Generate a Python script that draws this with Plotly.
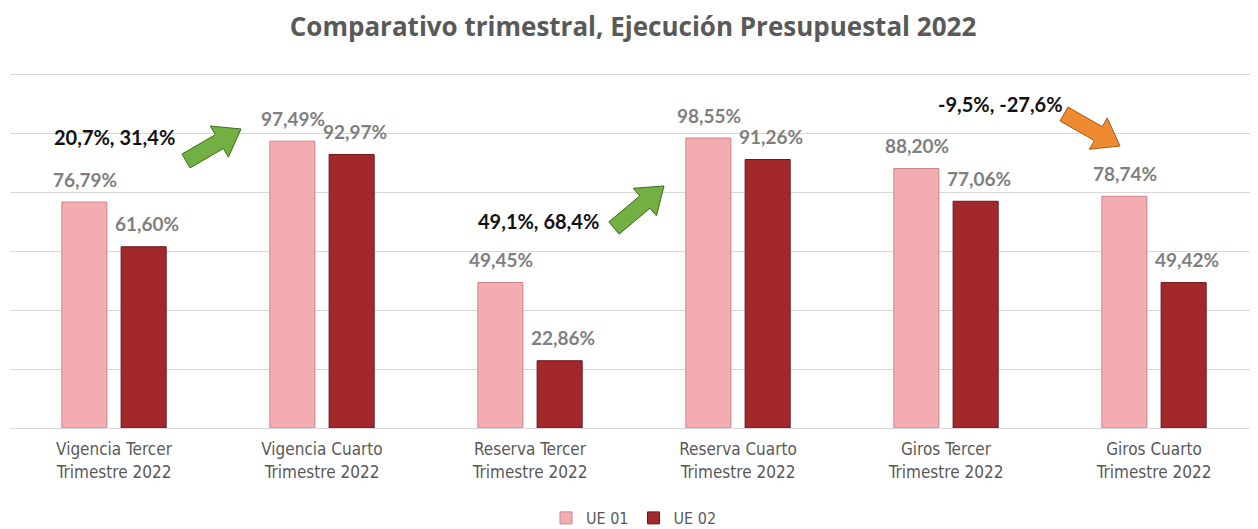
import plotly.graph_objects as go
import math

categories = ["Vigencia Tercer<br>Trimestre 2022", "Vigencia Cuarto<br>Trimestre 2022",
              "Reserva Tercer<br>Trimestre 2022", "Reserva Cuarto<br>Trimestre 2022",
              "Giros Tercer<br>Trimestre 2022", "Giros Cuarto<br>Trimestre 2022"]
ue01 = [76.79, 97.49, 49.45, 98.55, 88.20, 78.74]
ue02 = [61.60, 92.97, 22.86, 91.26, 77.06, 49.42]
series_names = ["UE 01", "UE 02"]
change_texts = ["20,7%, 31,4%", "49,1%, 68,4%", "-9,5%, -27,6%"]

OFF = 8  # page body margin offset
W, H = 1258 - OFF, 529 - OFF
ML, MR, MT, MB = 10 - OFF, 0, 72 - OFF, 101
PW = W - ML - MR
PH = H - MT - MB

def fmt(v):
    return f"{v:.2f}".replace(".", ",") + "%"

fig = go.Figure()
fig.add_trace(go.Bar(x=categories, y=ue01, name=series_names[0],
                     marker=dict(color="#F3ADB1", line=dict(color="#C9878C", width=1))))
fig.add_trace(go.Bar(x=categories, y=ue02, name=series_names[1],
                     marker=dict(color="#A2282B", line=dict(color="#6E1618", width=1))))

annotations = []
for i, c in enumerate(categories):
    for vals, shift in ((ue01, -29.5), (ue02, 33)):
        annotations.append(dict(x=c, y=vals[i], xref="x", yref="y", text=fmt(vals[i]),
                                showarrow=False, xshift=shift, yshift=23,
                                font=dict(family="Lato, Open Sans", size=19, color="#7F7F7F", weight="bold")))

def px2paper(px, py):
    return (px - OFF - ML) / PW, (H - MB - (py - OFF)) / PH

label_pos = [(114, 137), (538, 221), (1000, 104)]
for t, (px, py) in zip(change_texts, label_pos):
    xp, yp = px2paper(px, py)
    annotations.append(dict(x=xp, y=yp, xref="paper", yref="paper", text=t, showarrow=False,
                            xanchor="center", yanchor="middle",
                            font=dict(family="Lato, Open Sans", size=20, color="#111111", weight="bold")))

def arrow_path(tail, tip, shaft=16, head=36, head_len=25):
    tx, ty = tail
    hx, hy = tip
    dx, dy = hx - tx, hy - ty
    L = math.hypot(dx, dy)
    ux, uy = dx / L, dy / L
    nx, ny = -uy, ux
    bx, by = hx - ux * head_len, hy - uy * head_len
    pts = [
        (tx + nx * shaft / 2, ty + ny * shaft / 2),
        (bx + nx * shaft / 2, by + ny * shaft / 2),
        (bx + nx * head / 2, by + ny * head / 2),
        (hx, hy),
        (bx - nx * head / 2, by - ny * head / 2),
        (bx - nx * shaft / 2, by - ny * shaft / 2),
        (tx - nx * shaft / 2, ty - ny * shaft / 2),
    ]
    s = ""
    for k, (x, y) in enumerate(pts):
        xp, yp = px2paper(x, y)
        s += ("M" if k == 0 else "L") + f"{xp:.5f},{yp:.5f} "
    return s + "Z"

arrows = [((186, 161), (241, 129), "#72B043", "#3E6B1F"),
          ((614, 228), (664, 186), "#72B043", "#3E6B1F"),
          ((1064, 114), (1120, 146), "#EE8B30", "#A9570F")]
shapes = []
for tail, tip, fc, lc in arrows:
    shapes.append(dict(type="path", path=arrow_path(tail, tip), xref="paper", yref="paper",
                       fillcolor=fc, line=dict(color=lc, width=1)))

fig.update_layout(
    annotations=annotations, shapes=shapes,
    width=W, height=H,
    margin=dict(l=ML, r=MR, t=MT, b=MB, autoexpand=False),
    plot_bgcolor="white", paper_bgcolor="white",
    barmode="group", bargap=0.43, bargroupgap=0.24,
    title=dict(text="Comparativo trimestral, Ejecución Presupuestal 2022", x=0.5, xanchor="center",
               y=1 - (27 - OFF) / H, yanchor="middle",
               font=dict(family="Open Sans, Lato", size=26, color="#595959", weight="bold")),
    xaxis=dict(showgrid=False, showline=True, linecolor="#D9D9D9", linewidth=1, ticks="",
               automargin=False, ticklabelstandoff=6,
               tickfont=dict(family="DejaVu Sans Condensed, Liberation Sans", size=17, color="#595959")),
    yaxis=dict(range=[0, 121], tickvals=[20, 40, 60, 80, 100, 120], showgrid=True,
               gridcolor="#D9D9D9", gridwidth=1, automargin=False,
               showticklabels=False, zeroline=False),
    legend=dict(orientation="h", x=0.5, xanchor="center", yref="container", y=(529 - 518) / H,
                yanchor="middle",
                font=dict(family="DejaVu Sans Condensed, Liberation Sans", size=16, color="#595959")),
    showlegend=True,
)

fig.write_html("out.html")
